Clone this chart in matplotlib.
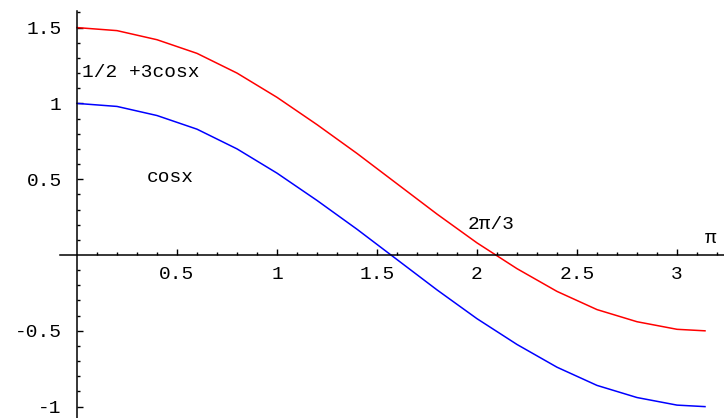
import matplotlib
matplotlib.use("Agg")
import matplotlib.pyplot as plt
from matplotlib.ticker import FixedLocator

# Data
x_vals = [0.0, 0.2, 0.4, 0.6, 0.8, 1.0, 1.2, 1.4, 1.6, 1.8, 2.0, 2.2, 2.4, 2.6, 2.8, 3.0, 3.14]
cos_vals = [1.0, 0.98, 0.92, 0.83, 0.70, 0.54, 0.36, 0.17, -0.03, -0.23, -0.42, -0.59, -0.74, -0.86, -0.94, -0.99, -1.0]
half_cos_vals = [1.5, 1.48, 1.42, 1.33, 1.20, 1.04, 0.86, 0.67, 0.47, 0.27, 0.08, -0.09, -0.24, -0.36, -0.44, -0.49, -0.5]

x_ticks = [0.5, 1, 1.5, 2, 2.5, 3]
x_tick_labels = ["0.5", "1", "1.5", "2", "2.5", "3"]
y_ticks = [-1, -0.5, 0.5, 1, 1.5]
y_tick_labels = ["-1", "-0.5", "0.5", "1", "1.5"]

label_red = "1/2 +3cosx"
label_blue = "cosx"
label_2pi3 = "2\u03c0/3"
label_pi = "\u03c0"

font = "Liberation Mono"
fs = 14

fig = plt.figure(figsize=(7.24, 4.18), dpi=100)
ax = fig.add_axes([0, 0, 1, 1])
ax.set_xlim(-0.385, 3.235)
ax.set_ylim(-1.075, 1.682)

ax.plot(x_vals, half_cos_vals, color="#ff0000", lw=1.1)
ax.plot(x_vals, cos_vals, color="#0000ff", lw=1.1)

for s in ["top", "right"]:
    ax.spines[s].set_visible(False)
ax.spines["left"].set_position(("data", 0))
ax.spines["bottom"].set_position(("data", 0))
ax.spines["left"].set_bounds(-1.075, 1.61)
ax.spines["bottom"].set_bounds(-0.085, 3.235)
for s in ["left", "bottom"]:
    ax.spines[s].set_linewidth(1.1)
    ax.spines[s].set_color("black")

x_minor = [i / 10 for i in range(1, 33) if i % 5 != 0]
y_minor = [i / 10 for i in range(-10, 17) if i % 5 != 0]

ax.xaxis.set_major_locator(FixedLocator(x_ticks))
ax.set_xticklabels(x_tick_labels, fontfamily=font, fontsize=fs)
ax.xaxis.set_minor_locator(FixedLocator(x_minor))
ax.yaxis.set_major_locator(FixedLocator(y_ticks))
ax.set_yticklabels(y_tick_labels, fontfamily=font, fontsize=fs)
ax.yaxis.set_minor_locator(FixedLocator(y_minor))

ax.tick_params(axis="x", which="major", direction="in", length=4, width=1, pad=8)
ax.tick_params(axis="x", which="minor", direction="in", length=2.5, width=1)
ax.tick_params(axis="y", which="major", direction="in", length=4, width=1, pad=11)
ax.tick_params(axis="y", which="minor", direction="in", length=2.5, width=1)

ax.text(0.025, 1.207, label_red, fontfamily=font, fontsize=fs, va="center", ha="left")
ax.text(0.35, 0.508, label_blue, fontfamily=font, fontsize=fs, va="center", ha="left")
ax.text(1.955, 0.204, label_2pi3, fontfamily=font, fontsize=fs, va="center", ha="left")
ax.text(3.14, 0.112, label_pi, fontfamily=font, fontsize=fs, va="center", ha="left")

fig.savefig("out.png", dpi=100)
